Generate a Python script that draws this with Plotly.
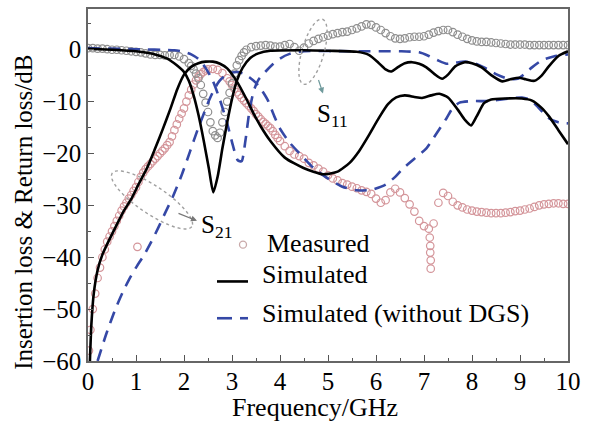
import math
import plotly.graph_objects as go

# ---------------- data ----------------
# Measured S11 (grey circles)
s11_meas_f = [0.0, 0.1, 0.2, 0.3, 0.4, 0.5, 0.6, 0.7, 0.8, 0.9,
              1.0, 1.1, 1.2, 1.3, 1.4, 1.5, 1.6, 1.7, 1.8, 1.9,
              2.0, 2.1, 2.15, 2.2, 2.25, 2.3, 2.35, 2.4, 2.45, 2.5, 2.55, 2.6, 2.65, 2.7, 2.75,
              2.8, 2.85, 2.9, 2.95, 3.0, 3.05, 3.1, 3.15, 3.2, 3.25, 3.3, 3.4, 3.5, 3.6, 3.7, 3.8, 3.9,
              4.0, 4.1, 4.2, 4.3, 4.4, 4.5, 4.6, 4.7, 4.8, 4.9,
              5.0, 5.1, 5.2, 5.3, 5.4, 5.5, 5.6, 5.7, 5.8, 5.9,
              6.0, 6.1, 6.2, 6.3, 6.4, 6.5, 6.6, 6.7, 6.8, 6.9,
              7.0, 7.1, 7.2, 7.3, 7.4, 7.5, 7.6, 7.7, 7.8, 7.9,
              8.0, 8.1, 8.2, 8.3, 8.4, 8.5, 8.6, 8.7, 8.8, 8.9,
              9.0, 9.1, 9.2, 9.3, 9.4, 9.5, 9.6, 9.7, 9.8, 9.9, 10.0]
s11_meas_db = [0.3, 0.3, 0.2, 0.2, 0.1, 0.0, 0.0, -0.1, -0.2, -0.3,
               -0.4, -0.5, -0.7, -0.9, -1.0, -1.0, -1.1, -1.0, -1.0, -1.3,
               -1.8, -2.6, -3.1, -3.8, -4.6, -5.5, -6.8, -8.5, -10.2, -12.0, -14.0, -15.7, -16.5, -17.0, -16.0,
               -14.0, -12.0, -10.0, -8.3, -6.5, -4.6, -3.0, -2.0, -1.2, -0.5, 0.0, 0.5, 0.7, 0.8, 0.9, 0.8, 0.6,
               0.6, 0.9, 1.1, 0.5, -0.2, 0.4, 1.2, 1.7, 2.1, 2.4,
               2.7, 3.0, 3.2, 3.4, 3.5, 3.8, 4.1, 4.5, 4.9, 4.8,
               4.3, 3.8, 3.2, 2.6, 2.2, 2.1, 2.2, 2.4, 2.5, 2.5,
               2.6, 2.9, 3.3, 3.6, 3.8, 3.8, 3.4, 2.9, 2.5, 2.1,
               1.8, 1.6, 1.5, 1.5, 1.4, 1.3, 1.2, 1.1, 1.0, 1.0,
               1.0, 1.0, 0.9, 0.9, 0.9, 0.9, 0.9, 0.9, 0.9, 0.9, 0.9]

# Measured S21 (pink circles)
s21_meas_f = [0.02, 0.05, 0.1, 0.15, 0.2, 0.25, 0.3, 0.35, 0.4, 0.45, 0.5, 0.55, 0.6, 0.65, 0.7, 0.75,
              0.8, 0.85, 0.9, 0.95, 1.0, 1.05, 1.1, 1.15, 1.2, 1.25, 1.3, 1.35, 1.4, 1.45, 1.5, 1.55,
              1.6, 1.65, 1.7, 1.75, 1.8, 1.85, 1.9, 1.95, 2.0, 2.05, 2.1, 2.15, 2.2, 2.25, 2.3, 2.35,
              2.4, 2.45, 2.5, 2.6, 2.7, 2.8, 2.9, 2.95, 3.0, 3.05, 3.1, 3.15, 3.2, 3.25, 3.3, 3.35,
              3.4, 3.45, 3.5, 3.55, 3.6, 3.65, 3.7, 3.75, 3.8, 3.85, 3.9, 3.95,
              4.0, 4.1, 4.2, 4.3, 4.4, 4.5, 4.6, 4.7, 4.8, 4.9,
              5.0, 5.1, 5.2, 5.3, 5.4, 5.5, 5.6, 5.7, 5.8, 5.9,
              6.0, 6.1, 6.2, 6.3, 6.4, 6.5, 6.6, 6.7, 6.8, 6.9,
              7.0, 7.1, 7.2, 7.3, 7.4, 7.5, 7.6, 7.7, 7.8, 7.9,
              8.0, 8.1, 8.2, 8.3, 8.4, 8.5, 8.6, 8.7, 8.8, 8.9,
              9.0, 9.1, 9.2, 9.3, 9.4, 9.5, 9.6, 9.7, 9.8, 9.9, 10.0,
              1.03, 7.12, 7.13, 7.13, 7.14, 7.14]
s21_meas_db = [-58.0, -54.0, -50.0, -47.0, -44.0, -42.0, -40.0, -38.5, -37.0, -36.0, -35.0, -34.0, -33.0, -32.0, -31.0, -30.2,
               -29.5, -28.7, -28.0, -27.2, -26.5, -25.5, -24.5, -23.7, -23.0, -22.5, -22.0, -21.5, -21.0, -20.5, -20.0, -19.5,
               -19.0, -18.4, -17.8, -16.7, -15.5, -14.4, -13.3, -12.3, -11.3, -10.0, -8.8, -7.7, -6.7, -5.9, -5.2, -4.7,
               -4.3, -4.0, -3.8, -3.7, -3.9, -4.5, -5.5, -6.1, -6.8, -7.5, -8.2, -8.7, -9.3, -9.8, -10.3, -10.8,
               -11.3, -11.8, -12.4, -12.9, -13.4, -13.9, -14.3, -14.7, -15.1, -15.7, -16.4, -17.0,
               -17.6, -18.6, -19.5, -20.2, -20.5, -21.0, -21.8, -22.3, -22.9, -23.5,
               -24.2, -24.8, -25.2, -25.7, -26.0, -26.4, -26.7, -27.1, -27.4, -27.8,
               -28.7, -29.5, -29.0, -27.5, -26.8, -27.5, -28.6, -29.8, -31.2, -33.0,
               -34.0, -34.5, -33.5, -29.5, -27.6, -28.2, -29.3, -30.0, -30.4, -30.8,
               -31.0, -31.2, -31.3, -31.4, -31.5, -31.5, -31.5, -31.4, -31.3, -31.1,
               -31.0, -30.8, -30.6, -30.3, -30.0, -29.8, -29.7, -29.6, -29.6, -29.7, -29.7,
               -38.0, -36.2, -37.8, -39.1, -40.6, -42.2]

# Simulated S11 (black)
s11_sim_f = [0.0, 0.5, 1.0, 1.4, 1.65, 1.85, 2.0, 2.1, 2.2, 2.3, 2.41, 2.52, 2.61, 2.7, 2.8, 2.9,
             3.0, 3.1, 3.22, 3.38, 3.55, 3.8, 4.5, 5.0, 5.6, 5.85, 6.05, 6.2, 6.32, 6.45, 6.6,
             6.75, 6.9, 7.05, 7.22, 7.38, 7.5, 7.65, 7.85, 8.0, 8.2, 8.4, 8.63, 8.8, 8.98, 9.12,
             9.3, 9.45, 9.6, 9.8, 10.0]
s11_sim_db = [0.2, 0.0, -0.3, -0.9, -1.7, -3.0, -4.3, -6.0, -8.8, -12.5, -17.5, -23.0, -27.5, -24.5, -19.0, -14.0,
              -9.5, -6.0, -3.5, -1.6, -0.7, -0.2, -0.1, -0.2, -0.4, -1.0, -2.5, -3.8, -4.2, -3.4, -2.6,
              -2.4, -2.7, -3.4, -4.7, -5.6, -4.8, -3.2, -2.4, -2.6, -3.4, -4.9, -6.1, -5.7, -5.4, -5.7,
              -6.0, -5.0, -3.2, -1.2, -0.3]

# Simulated S21 (black)
s21_sim_f = [0.04, 0.07, 0.12, 0.2, 0.3, 0.45, 0.6, 0.75, 0.9, 1.05, 1.23, 1.4, 1.55, 1.72, 1.86,
             2.0, 2.15, 2.3, 2.45, 2.6, 2.75, 2.9, 3.1, 3.3, 3.45, 3.6, 3.8, 4.1, 4.49, 4.9,
             5.2, 5.45, 5.65, 5.85, 6.07, 6.25, 6.42, 6.6, 6.8, 6.96, 7.15, 7.32, 7.5, 7.7, 7.85,
             7.98, 8.1, 8.25, 8.4, 8.7, 9.04, 9.25, 9.45, 9.6, 9.8, 10.0]
s21_sim_db = [-60.0, -53.0, -47.0, -42.5, -39.5, -36.5, -33.7, -31.0, -28.8, -26.0, -22.8, -19.0, -15.5, -11.3, -7.6,
              -4.8, -3.3, -2.6, -2.3, -2.3, -2.7, -3.6, -6.1, -9.5, -12.3, -14.8, -17.6, -20.8, -22.8, -24.0,
              -23.5, -21.8, -19.5, -16.5, -13.0, -10.5, -9.2, -8.8, -9.1, -9.3, -8.8, -8.5, -9.2, -11.5, -13.5,
              -14.6, -12.8, -10.3, -9.6, -9.4, -9.4, -9.8, -11.2, -12.8, -15.5, -18.2]

# Simulated S11 without DGS (blue dashed)
s11_nodgs_f = [0.0, 1.0, 1.8, 2.0, 2.15, 2.3, 2.45, 2.6, 2.75, 2.9, 3.02, 3.12, 3.2, 3.28, 3.36,
               3.45, 3.55, 3.7, 3.85, 4.0, 4.2, 4.5, 5.5, 6.5, 6.9, 7.1, 7.3, 7.47, 7.65, 7.85,
               8.05, 8.25, 8.5, 8.75, 8.95, 9.1, 9.25, 9.46, 9.7, 10.0]
s11_nodgs_db = [0.3, 0.1, -0.1, -0.4, -0.9, -1.8, -3.5, -6.0, -9.7, -14.2, -18.5, -21.3, -21.5, -17.5, -12.0,
                -8.0, -5.8, -4.2, -2.8, -1.7, -0.8, -0.3, -0.3, -0.3, -0.5, -1.2, -2.1, -2.7, -2.5, -2.3,
                -2.6, -3.4, -4.7, -5.6, -5.6, -4.6, -3.4, -2.0, -1.3, -0.9]

# Simulated S21 without DGS (blue dashed)
s21_nodgs_f = [0.2, 0.38, 0.57, 0.72, 0.88, 1.02, 1.16, 1.32, 1.47, 1.62, 1.76, 1.95, 2.13, 2.28, 2.41,
               2.52, 2.62, 2.74, 2.87, 3.0, 3.12, 3.24, 3.36, 3.5, 3.62, 3.75, 3.88, 4.0, 4.2, 4.46,
               4.7, 4.98, 5.3, 5.6, 5.9, 6.2, 6.4, 6.55, 6.8, 7.05, 7.25, 7.47, 7.6, 7.74, 8.0,
               8.36, 8.7, 9.04, 9.2, 9.35, 9.6, 9.8, 10.0]
s21_nodgs_db = [-60.0, -54.8, -50.0, -46.8, -43.9, -41.7, -39.7, -37.0, -34.2, -31.2, -28.5, -24.2, -19.5, -15.5, -12.4,
                -9.8, -7.8, -6.0, -4.9, -4.4, -4.3, -4.6, -5.3, -6.4, -7.8, -9.8, -12.8, -15.2, -17.9, -20.5,
                -22.8, -24.7, -26.4, -27.1, -27.0, -26.0, -24.5, -23.0, -21.0, -19.0, -16.3, -13.2, -11.2, -10.2, -9.9,
                -9.9, -9.5, -9.2, -9.6, -10.8, -13.2, -14.0, -14.2]

x_ticks = [0, 1, 2, 3, 4, 5, 6, 7, 8, 9, 10]
y_ticks = [-60, -50, -40, -30, -20, -10, 0]

# ---------------- layout geometry ----------------
W, H = 589, 424
L, R, T, B = 88, 21, 7, 63
PW, PH = W - L - R, H - T - B
FONT = "Liberation Serif"
BLUE = "#3548a6"


def px2paper(px, py):
    return (px - L) / PW, 1 - (py - T) / PH


def ellipse_path(cx, cy, a, b, ang_deg, n=72):
    th = math.radians(ang_deg)
    pts = []
    for i in range(n + 1):
        t = 2 * math.pi * i / n
        ex, ey = a * math.cos(t), b * math.sin(t)
        px = cx + ex * math.cos(th) - ey * math.sin(th)
        py = cy + ex * math.sin(th) + ey * math.cos(th)
        pts.append(px2paper(px, py))
    return "M " + " L ".join(f"{x:.4f},{y:.4f}" for x, y in pts) + " Z"


fig = go.Figure()

fig.add_trace(go.Scatter(x=s21_meas_f, y=s21_meas_db, mode="markers",
                         marker=dict(symbol="circle-open", size=7.5, color="#d4959a",
                                     line=dict(width=1.2, color="#d4959a")),
                         showlegend=False))
fig.add_trace(go.Scatter(x=s11_meas_f, y=s11_meas_db, mode="markers",
                         marker=dict(symbol="circle-open", size=7.5, color="#8f8f8f",
                                     line=dict(width=1.2, color="#8f8f8f")),
                         showlegend=False))
for fx, fy in [(s11_nodgs_f, s11_nodgs_db), (s21_nodgs_f, s21_nodgs_db)]:
    fig.add_trace(go.Scatter(x=fx, y=fy, mode="lines",
                             line=dict(color=BLUE, width=2.6, dash="12px,8px", shape="spline", smoothing=0.6),
                             showlegend=False))
for fx, fy in [(s11_sim_f, s11_sim_db), (s21_sim_f, s21_sim_db)]:
    fig.add_trace(go.Scatter(x=fx, y=fy, mode="lines",
                             line=dict(color="black", width=2.6, shape="spline", smoothing=0.6),
                             showlegend=False))

shapes = []
annotations = []

# ellipses (dotted) around S11 and S21 groups
shapes.append(dict(type="path", xref="paper", yref="paper",
                   path=ellipse_path(313, 50, 34, 11, -74),
                   line=dict(color="#a0a0a0", width=1.4, dash="dot")))
shapes.append(dict(type="path", xref="paper", yref="paper",
                   path=ellipse_path(152, 199, 48, 14, 34),
                   line=dict(color="#a0a0a0", width=1.4, dash="dot")))

# arrows
hx, hy = px2paper(323, 92)
annotations.append(dict(x=hx, y=hy, xref="paper", yref="paper", text="", showarrow=True,
                        ax=-5, ay=-15, arrowhead=2, arrowsize=1, arrowwidth=1.2, arrowcolor="#6f9a9c"))
hx, hy = px2paper(197, 220)
annotations.append(dict(x=hx, y=hy, xref="paper", yref="paper", text="", showarrow=True,
                        ax=-20, ay=-8, arrowhead=2, arrowsize=1, arrowwidth=1.2, arrowcolor="#777777"))

# S labels
for txt, px, py in [("S<sub>11</sub>", 315, 114), ("S<sub>21</sub>", 199, 226)]:
    ax_, ay_ = px2paper(px, py)
    annotations.append(dict(x=ax_, y=ay_, xref="paper", yref="paper", text=txt, showarrow=False,
                            xanchor="left", yanchor="middle", font=dict(family=FONT, size=25, color="black")))

# manual legend
cx, cy = px2paper(243, 244)
r = 3.5
shapes.append(dict(type="circle", xref="paper", yref="paper",
                   x0=cx - r / PW, x1=cx + r / PW, y0=cy - r / PH, y1=cy + r / PH,
                   line=dict(color="#c9a9a9", width=1.3)))
x0, y0 = px2paper(217, 281)
x1, _ = px2paper(248, 281)
shapes.append(dict(type="line", xref="paper", yref="paper", x0=x0, x1=x1, y0=y0, y1=y0,
                   line=dict(color="black", width=2.6)))
for a, b in [(217, 232), (240, 248)]:
    x0, y0 = px2paper(a, 318)
    x1, _ = px2paper(b, 318)
    shapes.append(dict(type="line", xref="paper", yref="paper", x0=x0, x1=x1, y0=y0, y1=y0,
                       line=dict(color=BLUE, width=2.6)))
for txt, px, py in [("Measured", 265, 243), ("Simulated", 260, 274), ("Simulated (without DGS)", 260, 313)]:
    ax_, ay_ = px2paper(px, py)
    annotations.append(dict(x=ax_, y=ay_, xref="paper", yref="paper", text=txt, showarrow=False,
                            xanchor="left", yanchor="middle", font=dict(family=FONT, size=26, color="black")))

# axis titles
tx, ty = px2paper(24, 212)
annotations.append(dict(x=tx, y=ty, xref="paper", yref="paper", text="Insertion loss & Return loss/dB",
                        textangle=-90, showarrow=False, xanchor="center", yanchor="middle",
                        font=dict(family=FONT, size=25, color="black")))
tx, ty = px2paper(315, 408)
annotations.append(dict(x=tx, y=ty, xref="paper", yref="paper", text="Frequency/GHz",
                        showarrow=False, xanchor="center", yanchor="middle",
                        font=dict(family=FONT, size=26, color="black")))

fig.update_layout(
    width=W, height=H,
    margin=dict(l=L, r=R, t=T, b=B),
    paper_bgcolor="white", plot_bgcolor="white",
    shapes=shapes, annotations=annotations,
    showlegend=False,
    xaxis=dict(range=[0, 10], tickvals=x_ticks, ticks="inside", ticklen=6, tickwidth=1.2,
               tickcolor="#555", showline=True, linecolor="#666", linewidth=1.5, mirror=True,
               showgrid=False, zeroline=False, ticklabelstandoff=-3,
               minor=dict(dtick=0.5, ticks="inside", ticklen=3, tickcolor="#555", showgrid=False),
               tickfont=dict(family=FONT, size=25, color="black")),
    yaxis=dict(range=[-60, 7.85], tickvals=y_ticks, ticks="inside", ticklen=6, tickwidth=1.2,
               tickcolor="#555", showline=True, linecolor="#666", linewidth=1.5, mirror=True,
               showgrid=False, zeroline=False,
               minor=dict(dtick=5, ticks="inside", ticklen=3, tickcolor="#555", showgrid=False),
               tickfont=dict(family=FONT, size=25, color="black")),
)

fig.write_html("out.html")
